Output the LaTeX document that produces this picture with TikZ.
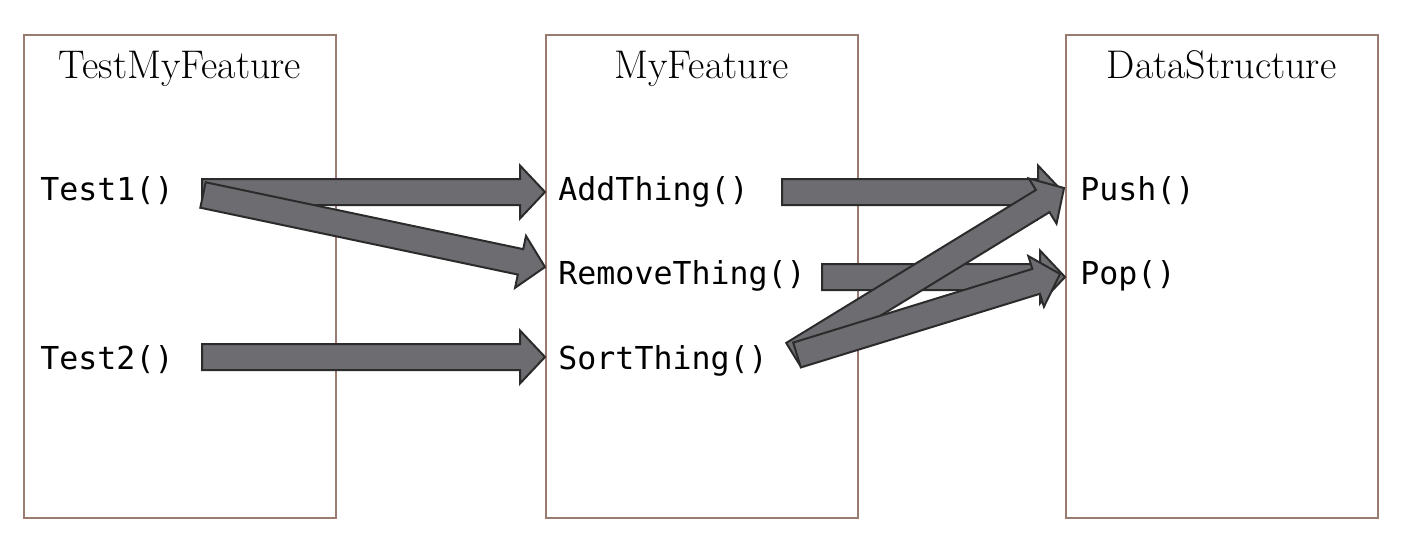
\documentclass[tikz,border=0pt]{standalone}
\usepackage{fontspec}
\newfontfamily\codefont{DejaVu Sans Mono}
\usetikzlibrary{calc}
\definecolor{boxline}{HTML}{9A7B70}
\definecolor{arrowfill}{HTML}{6D6C71}
\definecolor{arrowline}{HTML}{2B2B2B}
\tikzset{
  box/.style={draw=boxline, line width=1pt, minimum width=156pt, minimum height=241.5pt, inner sep=0pt},
  title/.style={font=\fontsize{20}{22}\selectfont, anchor=base, inner sep=0pt},
  code/.style={font=\codefont\fontsize{15.8}{18}\selectfont, anchor=base west, inner sep=0pt},
  blockarrow/.style={fill=arrowfill, draw=arrowline, line width=1pt, line join=miter}
}
\newcommand{\blockarrow}[2]{%
  \coordinate (hb) at ($(#2)!12.5pt!(#1)$);
  \draw[blockarrow] ($(#1)!6.5pt!90:(#2)$) -- ($(hb)!6.5pt!90:(#2)$) -- ($(hb)!13.25pt!90:(#2)$) -- (#2)
    -- ($(hb)!13.25pt!-90:(#2)$) -- ($(hb)!6.5pt!-90:(#2)$) -- ($(#1)!6.5pt!-90:(#2)$) -- cycle;
}
\begin{document}
\begin{tikzpicture}[x=0.5pt, y=-0.5pt]
\useasboundingbox (0,0) rectangle (1406,542);
% boxes
\node[box] (lbox) at (180,276.5) {};
\node[box] (mbox) at (701.5,276.5) {};
\node[box] (rbox) at (1221.5,276.5) {};
% titles
\node[title] (ltitle) at (180,78) {TestMyFeature};
\node[title] (mtitle) at (701.5,78) {MyFeature};
\node[title] (rtitle) at (1221.5,78) {DataStructure};
% labels
\node[code] (test1) at (40,200) {Test1()};
\node[code] (test2) at (40,369) {Test2()};
\node[code] (add) at (558,200) {AddThing()};
\node[code] (remove) at (558,284) {RemoveThing()};
\node[code] (sort) at (558,369) {SortThing()};
\node[code] (push) at (1080,200) {Push()};
\node[code] (pop) at (1080,284) {Pop()};
% arrow ends
\coordinate (t1a) at (202,192);
\coordinate (t1b) at (203,195);
\coordinate (t2a) at (202,357);
\coordinate (addin) at (545,192);
\coordinate (remin) at (545,267);
\coordinate (sortin) at (545,357);
\coordinate (addout) at (782,192);
\coordinate (remout) at (822,277);
\coordinate (sorta) at (793,354);
\coordinate (sortb) at (797,355);
\coordinate (pushin1) at (1063,192);
\coordinate (pushin2) at (1064,188);
\coordinate (popin1) at (1065,277);
\coordinate (popin2) at (1060,274);
% arrows
\blockarrow{t1a}{addin}
\blockarrow{t1b}{remin}
\blockarrow{t2a}{sortin}
\blockarrow{addout}{pushin1}
\blockarrow{remout}{popin1}
\blockarrow{sorta}{pushin2}
\blockarrow{sortb}{popin2}
\end{tikzpicture}
\end{document}
